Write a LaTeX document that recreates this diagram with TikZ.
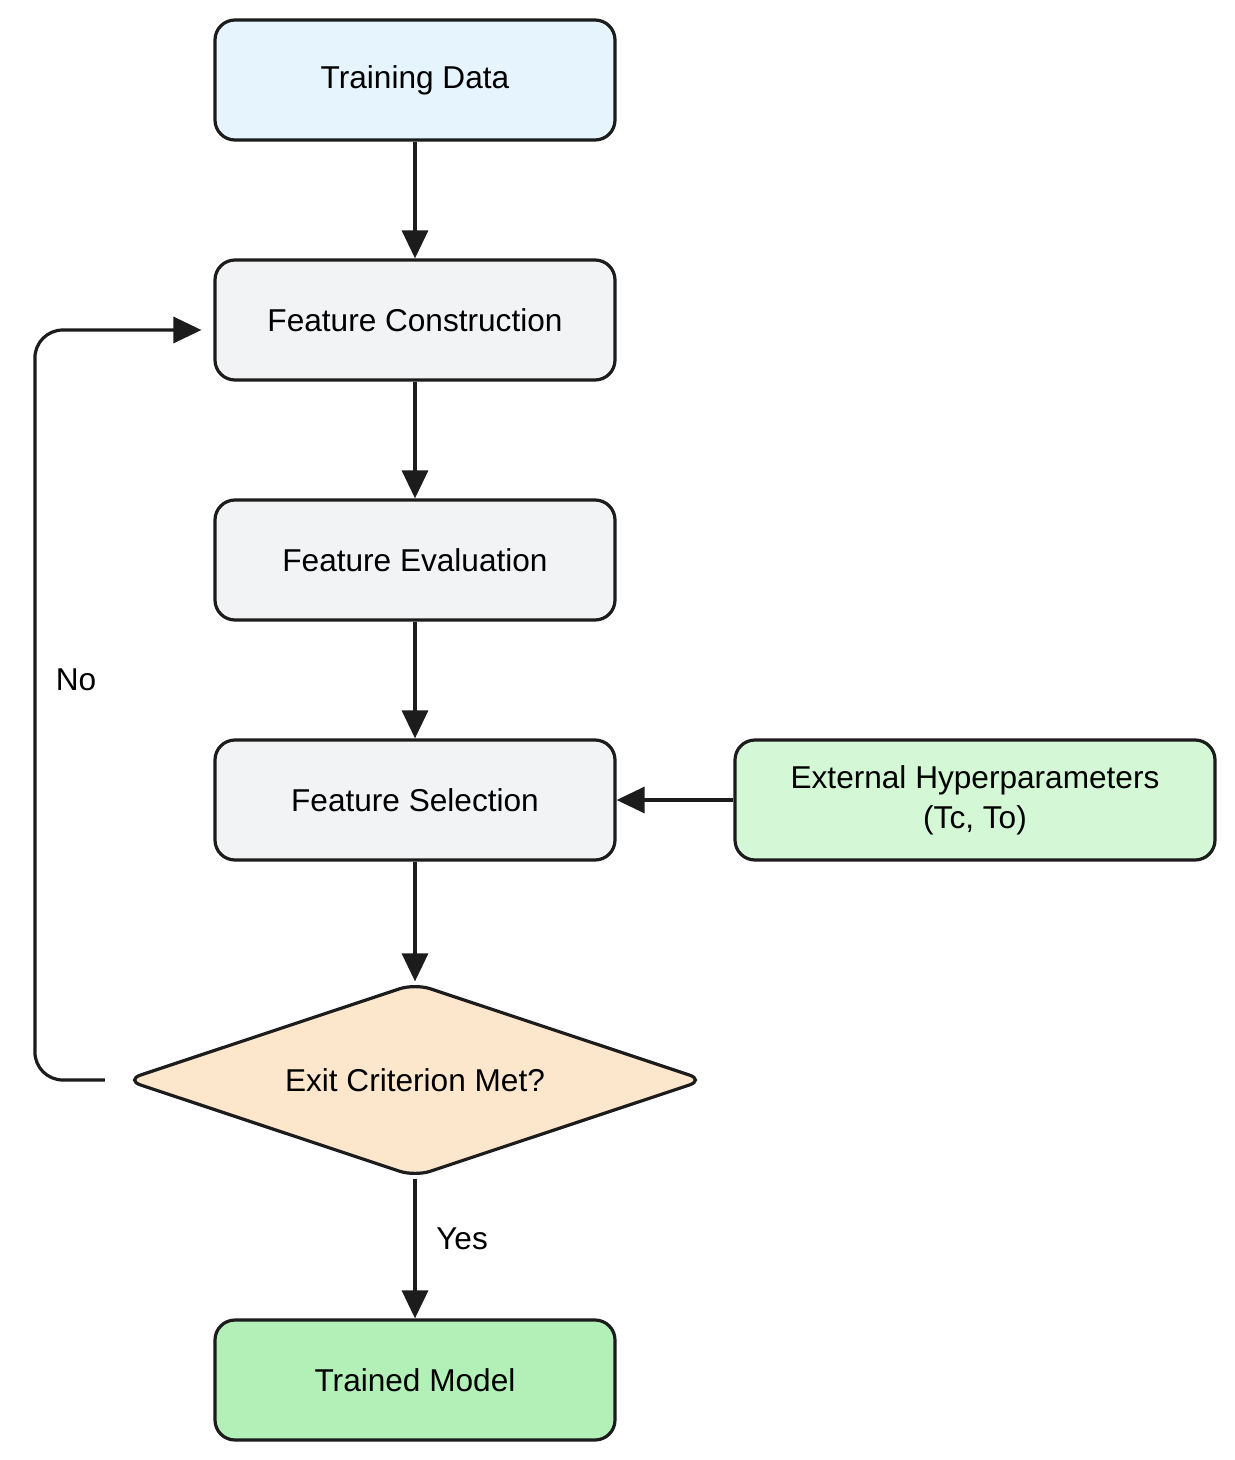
\documentclass[tikz,border=0pt]{standalone}
\usepackage{fontspec}
\setmainfont{Liberation Sans}
\usetikzlibrary{arrows.meta,shapes.geometric,calc}
\definecolor{linegray}{HTML}{1C1C1C}
\definecolor{datablue}{HTML}{E6F4FD}
\definecolor{stepgray}{HTML}{F2F3F5}
\definecolor{hypergreen}{HTML}{D4F7D6}
\definecolor{modelgreen}{HTML}{B3F0B8}
\definecolor{exitorange}{HTML}{FDE7CC}

\begin{document}
\begin{tikzpicture}[x=0.5pt, y=-0.5pt, font=\fontsize{15.8}{20}\selectfont,
    stepbox/.style={draw=linegray, line width=1.6pt, rounded corners=10pt,
      minimum width=200pt, minimum height=60pt, inner sep=0pt, align=center},
    flow/.style={draw=linegray, line width=1.6pt,
      -{Triangle[length=14pt, width=13pt]}}]
    \useasboundingbox (0,0) rectangle (1235,1460);
    % main column
    \node[stepbox, fill=datablue] (data) at (415,80) {Training Data};
    \node[stepbox, fill=stepgray] (construct) at (415,320) {Feature Construction};
    \node[stepbox, fill=stepgray] (evaluate) at (415,560) {Feature Evaluation};
    \node[stepbox, fill=stepgray] (select) at (415,800) {Feature Selection};
    \node[stepbox, fill=hypergreen, minimum width=240pt] (hyper) at (975,800)
      {External Hyperparameters\\(Tc, To)};
    \node[diamond, draw=linegray, line width=1.6pt, fill=exitorange, aspect=3,
      minimum width=290pt, minimum height=97pt, inner sep=0pt,
      rounded corners=8pt] (exit) at (415,1080) {Exit Criterion Met?};
    \node[stepbox, fill=modelgreen] (model) at (415,1380) {Trained Model};
    % arrows
    \draw[flow] (data) -- (construct);
    \draw[flow] (construct) -- (evaluate);
    \draw[flow] (evaluate) -- (select);
    \draw[flow] (hyper) -- (select);
    \draw[flow] (select) -- (exit);
    \draw[flow] (exit) -- (model) node[pos=0.43, right=6.5pt] (yes) {Yes};
    % loop back
    \draw[flow, rounded corners=14pt, shorten <=9.25pt, shorten >=6pt]
      (exit.west) -- ++(-88.5,0) |- ($(construct.west)+(0,10)$);
    \node (no) at (76,680) {No};
\end{tikzpicture}
\end{document}
